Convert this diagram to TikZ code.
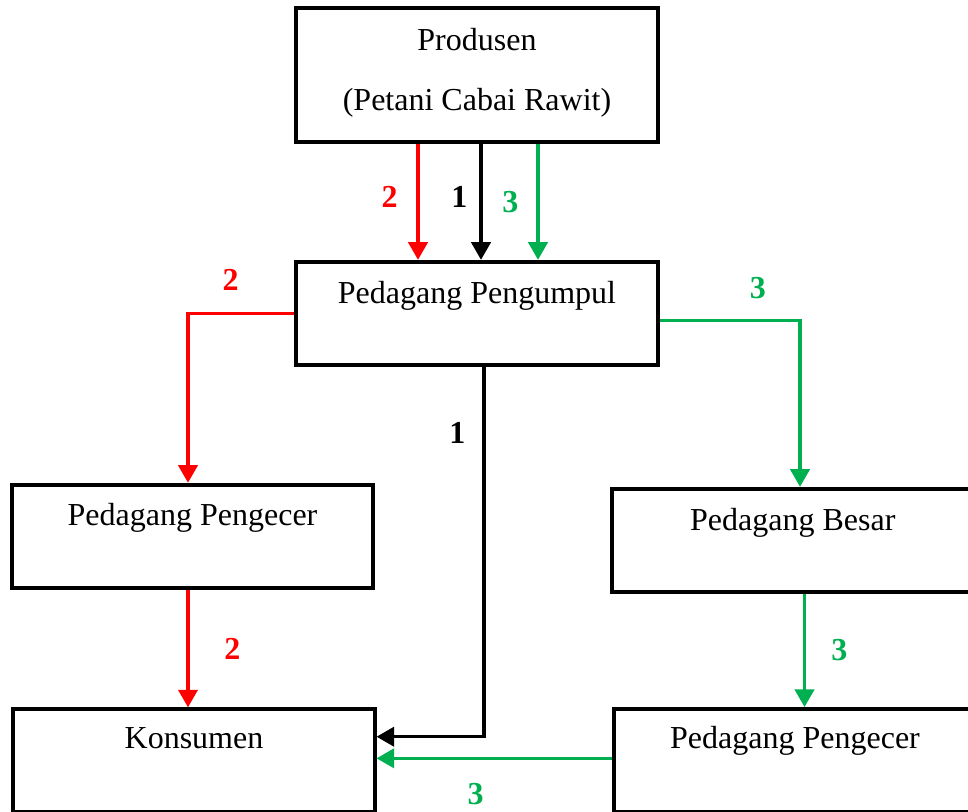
\documentclass[tikz,border=0pt]{standalone}
\usepackage{fontspec}
\setmainfont{Liberation Serif}
\usetikzlibrary{arrows.meta,positioning,calc}
\definecolor{jalurdua}{RGB}{255,0,0}
\definecolor{jalurtiga}{RGB}{0,176,80}

\begin{document}
\begin{tikzpicture}
[   x=0.375pt, y=-0.375pt,
    box/.style={draw=black, line width=1.5pt, minimum width=135.4pt, minimum height=38.6pt, inner sep=0pt},
    txt/.style={inner sep=0pt, anchor=base, align=center, font=\fontsize{12}{14}\selectfont},
    num/.style={inner sep=0pt, font=\fontsize{12}{14}\selectfont\bfseries},
    flow/.style={line width=1.25pt, -{Triangle[length=6.6pt,width=7.2pt]}}, ]

    \useasboundingbox (0,0) rectangle (968,811);

    \node[box, minimum height=50pt] (prod) at (477,75) {};
    \node[box] (pul) at (477,313.3) {};
    \node[box] (ecL) at (192.5,536.2) {};
    \node[box] (kon) at (194,760.8) {};
    \node[box] (bes) at (792.8,540.3) {};
    \node[box] (ecR) at (795,760.5) {};

    \node[txt] (prod-t) at (477,110) {Produsen\\[8.5pt](Petani Cabai Rawit)};
    \node[txt] (pul-t) at (477,303.3) {Pedagang Pengumpul};
    \node[txt] (ecL-t) at (192.5,525) {Pedagang Pengecer};
    \node[txt] (kon-t) at (194,748.3) {Konsumen};
    \node[txt] (bes-t) at (792.8,530) {Pedagang Besar};
    \node[txt] (ecR-t) at (795,748.3) {Pedagang Pengecer};

    \coordinate (x1) at (481,0);
    \coordinate (x2) at (418,0);
    \coordinate (x3) at (538,0);
    \coordinate (xl) at (188,0);
    \coordinate (xb) at (484,0);
    \coordinate (xg) at (800,0);
    \coordinate (xh) at (804.5,0);
    \coordinate (yg) at (0,320.5);
    \coordinate (yb) at (0,736.7);
    \coordinate (yk) at (0,758.3);

    \draw[flow, jalurdua] (prod.south -| x2) -- node[num, left=7pt, pos=0.46] {2} (pul.north -| x2);
    \draw[flow] (prod.south -| x1) -- node[num, left=4.5pt, pos=0.46] {1} (pul.north -| x1);
    \draw[flow, jalurtiga] (prod.south -| x3) -- node[num, left=6.7pt, pos=0.5] {3} (pul.north -| x3);

    \draw[flow, jalurdua] (pul.west) -| node[num, above=8pt, pos=0.3] {2} (ecL.north -| xl);
    \draw[flow, jalurtiga] (pul.east |- yg) -| node[num, above=7.5pt, pos=0.35] {3} (bes.north -| xg);
    \draw[flow] (pul.south -| xb) |- node[num, left=6.4pt, pos=0.09] {1} (kon.east |- yb);

    \draw[flow, jalurdua] (ecL.south -| xl) -- node[num, right=13pt] {2} (kon.north -| xl);
    \draw[flow, jalurtiga] (bes.south -| xh) -- node[num, right=9.4pt] {3} (ecR.north -| xh);
    \draw[flow, jalurtiga] (ecR.west |- yk) -- node[num, below=8.6pt, pos=0.58] {3} (kon.east |- yk);

\end{tikzpicture}
\end{document}
